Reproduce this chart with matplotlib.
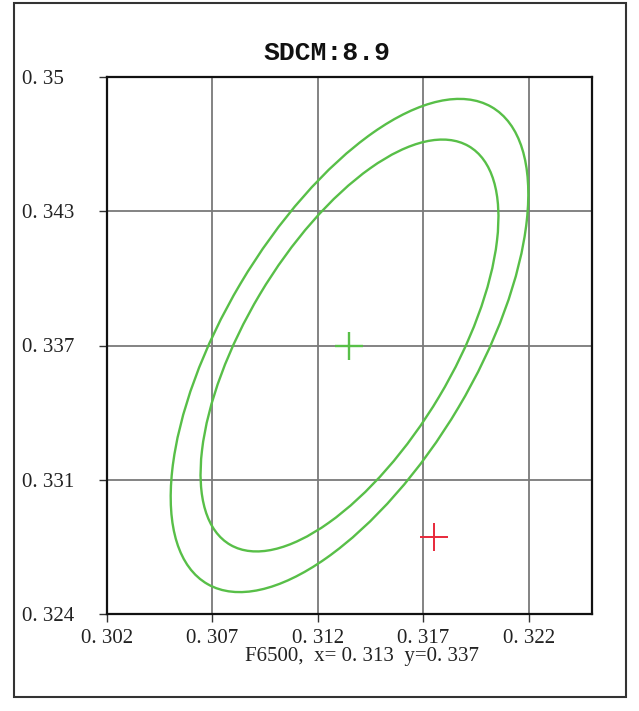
import matplotlib
matplotlib.use("Agg")
import matplotlib.pyplot as plt
from matplotlib.patches import Ellipse, Rectangle

# Achsen
x_ticks = [0.302, 0.307, 0.312, 0.317, 0.322]
x_labels = ["0. 302", "0. 307", "0. 312", "0. 317", "0. 322"]
y_ticks = [0.324, 0.3305, 0.337, 0.3435, 0.350]
y_labels = ["0. 324", "0. 331", "0. 337", "0. 343", "0. 35"]
x_lim = (0.302, 0.325)
y_lim = (0.324, 0.350)

# Ellipsen (Mittelpunkt, volle Breite, volle Hoehe, Winkel in Grad)
ellipse_center = (0.3135, 0.337)
ellipse_widths = [0.02674, 0.02237]
ellipse_heights = [0.01195, 0.00984]
ellipse_angles = [59.8, 59.7]

# Punkte
target_xy = (0.31347, 0.3370)
measured_xy = (0.31752, 0.32773)

title = "SDCM:8.9"
footer = "F6500,  x= 0. 313  y=0. 337"

green = "#58bf48"
red = "#e8283a"

fig = plt.figure(figsize=(6.39, 7.11), dpi=100)
ax = fig.add_axes([107 / 639, 1 - 614 / 711, 485 / 639, 537 / 711])

# Rahmen um alles
fig.patches.append(Rectangle((14 / 639, 1 - 697 / 711), 612 / 639, 694 / 711,
                             transform=fig.transFigure, fill=False,
                             edgecolor="#333333", linewidth=1.5))

for w, h, ang in zip(ellipse_widths, ellipse_heights, ellipse_angles):
    ax.add_patch(Ellipse(ellipse_center, w, h, angle=ang, fill=False,
                         edgecolor=green, linewidth=1.7, zorder=3))

ax.plot(*target_xy, marker="+", color=green, markersize=20, markeredgewidth=1.7, zorder=4)
ax.plot(*measured_xy, marker="+", color=red, markersize=20, markeredgewidth=1.4, zorder=4)

ax.set_xlim(*x_lim)
ax.set_ylim(*y_lim)
ax.set_xticks(x_ticks)
ax.set_xticklabels(x_labels)
ax.set_yticks(y_ticks)
ax.set_yticklabels(y_labels)

ax.grid(True, color="#7a7a7a", linewidth=1.3)
ax.set_axisbelow(True)
for s in ax.spines.values():
    s.set_linewidth(1.6)
    s.set_color("#111111")

ax.tick_params(axis="both", length=6, width=1.0, color="#333333",
               labelsize=15, labelcolor="#222222")
ax.tick_params(axis="x", pad=5)
ax.tick_params(axis="y", pad=55)
for lab in ax.get_xticklabels() + ax.get_yticklabels():
    lab.set_family("Liberation Serif")
for lab in ax.get_yticklabels():
    lab.set_ha("left")

fig.text(327 / 639, 1 - 53 / 711, title, ha="center", va="center",
         family="Liberation Mono", fontweight="bold", fontsize=19, color="#111111")
fig.text(362 / 639, 1 - 656 / 711, footer, ha="center", va="center",
         family="Liberation Serif", fontsize=15, color="#222222")

fig.savefig("out.png", dpi=100)
